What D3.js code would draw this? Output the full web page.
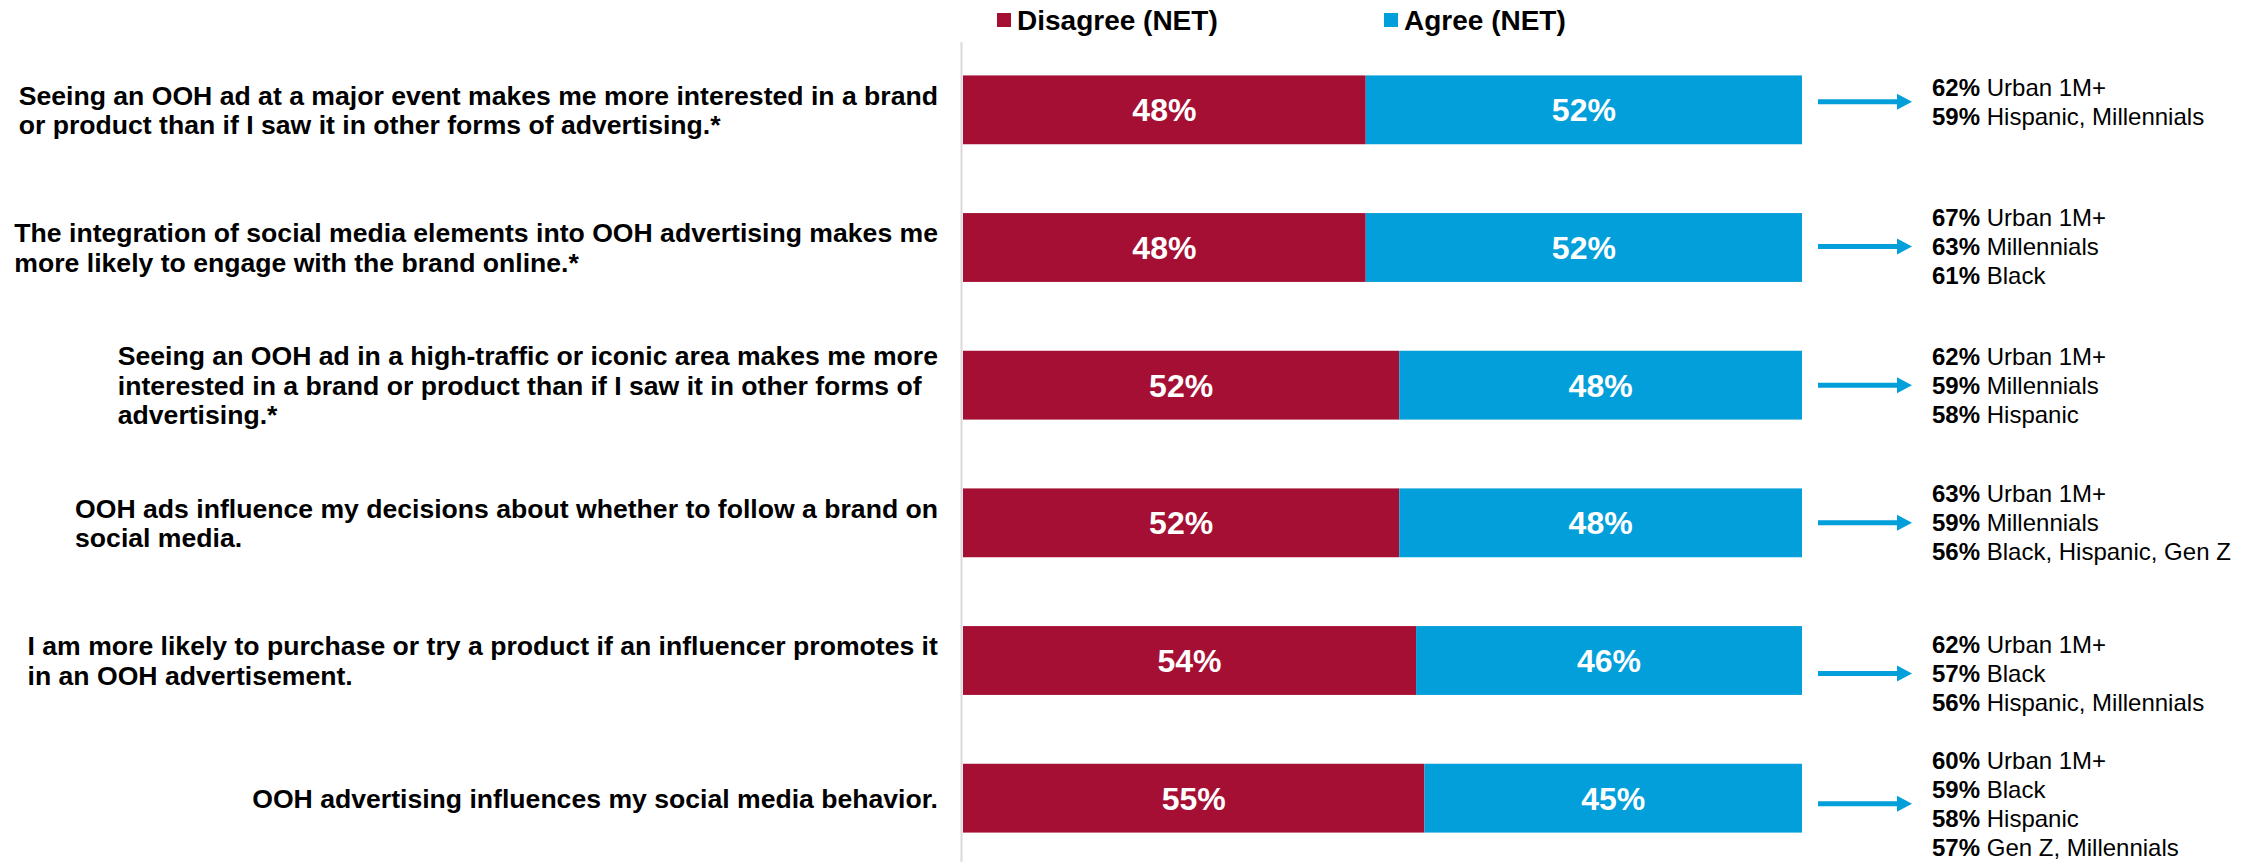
<!DOCTYPE html>
<html>
<head>
<meta charset="utf-8">
<script src="https://cdn.jsdelivr.net/npm/d3@7"></script>
<style>
  html, body { margin: 0; padding: 0; background: #ffffff; }
  svg { display: block; font-family: "Liberation Sans", Arial, Helvetica, sans-serif; }
</style>
</head>
<body>
<svg id="chart" width="2251" height="862"></svg>
<script>
// Survey statements (one entry per line of the wrapped label)
const statements = [
  ["Seeing an OOH ad at a major event makes me more interested in a brand",
   "or product than if I saw it in other forms of advertising.*"],
  ["The integration of social media elements into OOH advertising makes me",
   "more likely to engage with the brand online.*"],
  ["Seeing an OOH ad in a high-traffic or iconic area makes me more",
   "interested in a brand or product than if I saw it in other forms of",
   "advertising.*"],
  ["OOH ads influence my decisions about whether to follow a brand on",
   "social media."],
  ["I am more likely to purchase or try a product if an influencer promotes it",
   "in an OOH advertisement."],
  ["OOH advertising influences my social media behavior."]
];

const seriesNames = ["Disagree (NET)", "Agree (NET)"];
const disagree = [48, 48, 52, 52, 54, 55];
const agree    = [52, 52, 48, 48, 46, 45];

// Top demographic groups agreeing with each statement
const calloutPct = [
  [62, 59],
  [67, 63, 61],
  [62, 59, 58],
  [63, 59, 56],
  [62, 57, 56],
  [60, 59, 58, 57]
];
const calloutGroups = [
  ["Urban 1M+", "Hispanic, Millennials"],
  ["Urban 1M+", "Millennials", "Black"],
  ["Urban 1M+", "Millennials", "Hispanic"],
  ["Urban 1M+", "Millennials", "Black, Hispanic, Gen Z"],
  ["Urban 1M+", "Black", "Hispanic, Millennials"],
  ["Urban 1M+", "Black", "Hispanic", "Gen Z, Millennials"]
];

// Layout
const RED = "#A50F34";
const BLUE = "#039FDB";
const colors = [RED, BLUE];
const plotLeft = 963, plotRight = 1802;
const labelRight = 938;
const labelFont = 26.6, labelLine = 29.5;
const calloutFont = 24, calloutLine = 29;
const calloutShift = [-8, -1, 0, 0, 13, 5.5];   // fine vertical placement of each callout block

const svg = d3.select("#chart");

const rows = statements.map((s, i) => ({
  i, lines: s, disagree: disagree[i], agree: agree[i]
}));

const y = d3.scaleBand()
  .domain(rows.map(d => d.i))
  .range([41, 867])
  .paddingInner(0.5)
  .paddingOuter(0.25);

const x = d3.scaleLinear().domain([0, 100]).range([plotLeft, plotRight]);

// Vertical baseline
svg.append("line")
  .attr("x1", plotLeft - 1.5).attr("x2", plotLeft - 1.5)
  .attr("y1", 42).attr("y2", 862)
  .attr("stroke", "#d9d9d9").attr("stroke-width", 2);

// Stacked bars
const stack = d3.stack().keys(["disagree", "agree"]);
const layers = stack(rows);

const layerG = svg.selectAll("g.layer")
  .data(layers)
  .join("g")
  .attr("class", "layer")
  .attr("fill", (d, k) => colors[k]);

layerG.selectAll("rect")
  .data(d => d)
  .join("rect")
  .attr("x", d => x(d[0]))
  .attr("y", d => y(d.data.i))
  .attr("width", d => x(d[1]) - x(d[0]))
  .attr("height", y.bandwidth());

layerG.selectAll("text")
  .data(d => d)
  .join("text")
  .attr("x", d => (x(d[0]) + x(d[1])) / 2)
  .attr("y", d => y(d.data.i) + y.bandwidth() / 2 + 11.5)
  .attr("text-anchor", "middle")
  .attr("fill", "#ffffff")
  .attr("font-weight", "bold")
  .attr("font-size", 32)
  .text(d => `${d[1] - d[0]}%`);

// Statement labels: left-aligned lines, block right-aligned to the plot
const labelG = svg.append("g");
rows.forEach(r => {
  const cy = y(r.i) + y.bandwidth() / 2;
  const first = cy - (r.lines.length - 1) / 2 * labelLine + labelFont * 0.716 / 2;
  const t = labelG.append("text")
    .attr("font-weight", "bold")
    .attr("font-size", labelFont)
    .attr("fill", "#000000");
  r.lines.forEach((ln, k) => {
    t.append("tspan").attr("x", 0).attr("y", first + k * labelLine).text(ln);
  });
  const w = t.node().getBBox().width;
  t.attr("transform", `translate(${labelRight - w},0)`);
});

// Callouts: arrow + demographic highlights
const calloutG = svg.append("g");
rows.forEach(r => {
  const cy = y(r.i) + y.bandwidth() / 2 + calloutShift[r.i];
  const x0 = plotRight + 16, x1 = plotRight + 110, head = 15, hh = 8, sh = 2.5;
  calloutG.append("path")
    .attr("d", d3.line()([
      [x0, cy - sh], [x1 - head, cy - sh], [x1 - head, cy - hh], [x1, cy],
      [x1 - head, cy + hh], [x1 - head, cy + sh], [x0, cy + sh]
    ]) + "Z")
    .attr("fill", BLUE);

  const n = calloutPct[r.i].length;
  const first = cy - (n - 1) / 2 * calloutLine + calloutFont * 0.716 / 2;
  const t = calloutG.append("text")
    .attr("font-size", calloutFont)
    .attr("fill", "#000000");
  calloutPct[r.i].forEach((p, k) => {
    t.append("tspan").attr("x", plotRight + 130).attr("y", first + k * calloutLine)
      .attr("font-weight", "bold").text(`${p}%`);
    t.append("tspan").text(" " + calloutGroups[r.i][k]);
  });
});

// Legend
const legendX = [997, 1384];
const legend = svg.append("g");
seriesNames.forEach((name, k) => {
  legend.append("rect")
    .attr("x", legendX[k]).attr("y", 13)
    .attr("width", 14).attr("height", 14)
    .attr("fill", colors[k]);
  legend.append("text")
    .attr("x", legendX[k] + 20).attr("y", 29.5)
    .attr("font-weight", "bold").attr("font-size", 28)
    .attr("fill", "#000000")
    .text(name);
});
</script>
</body>
</html>
